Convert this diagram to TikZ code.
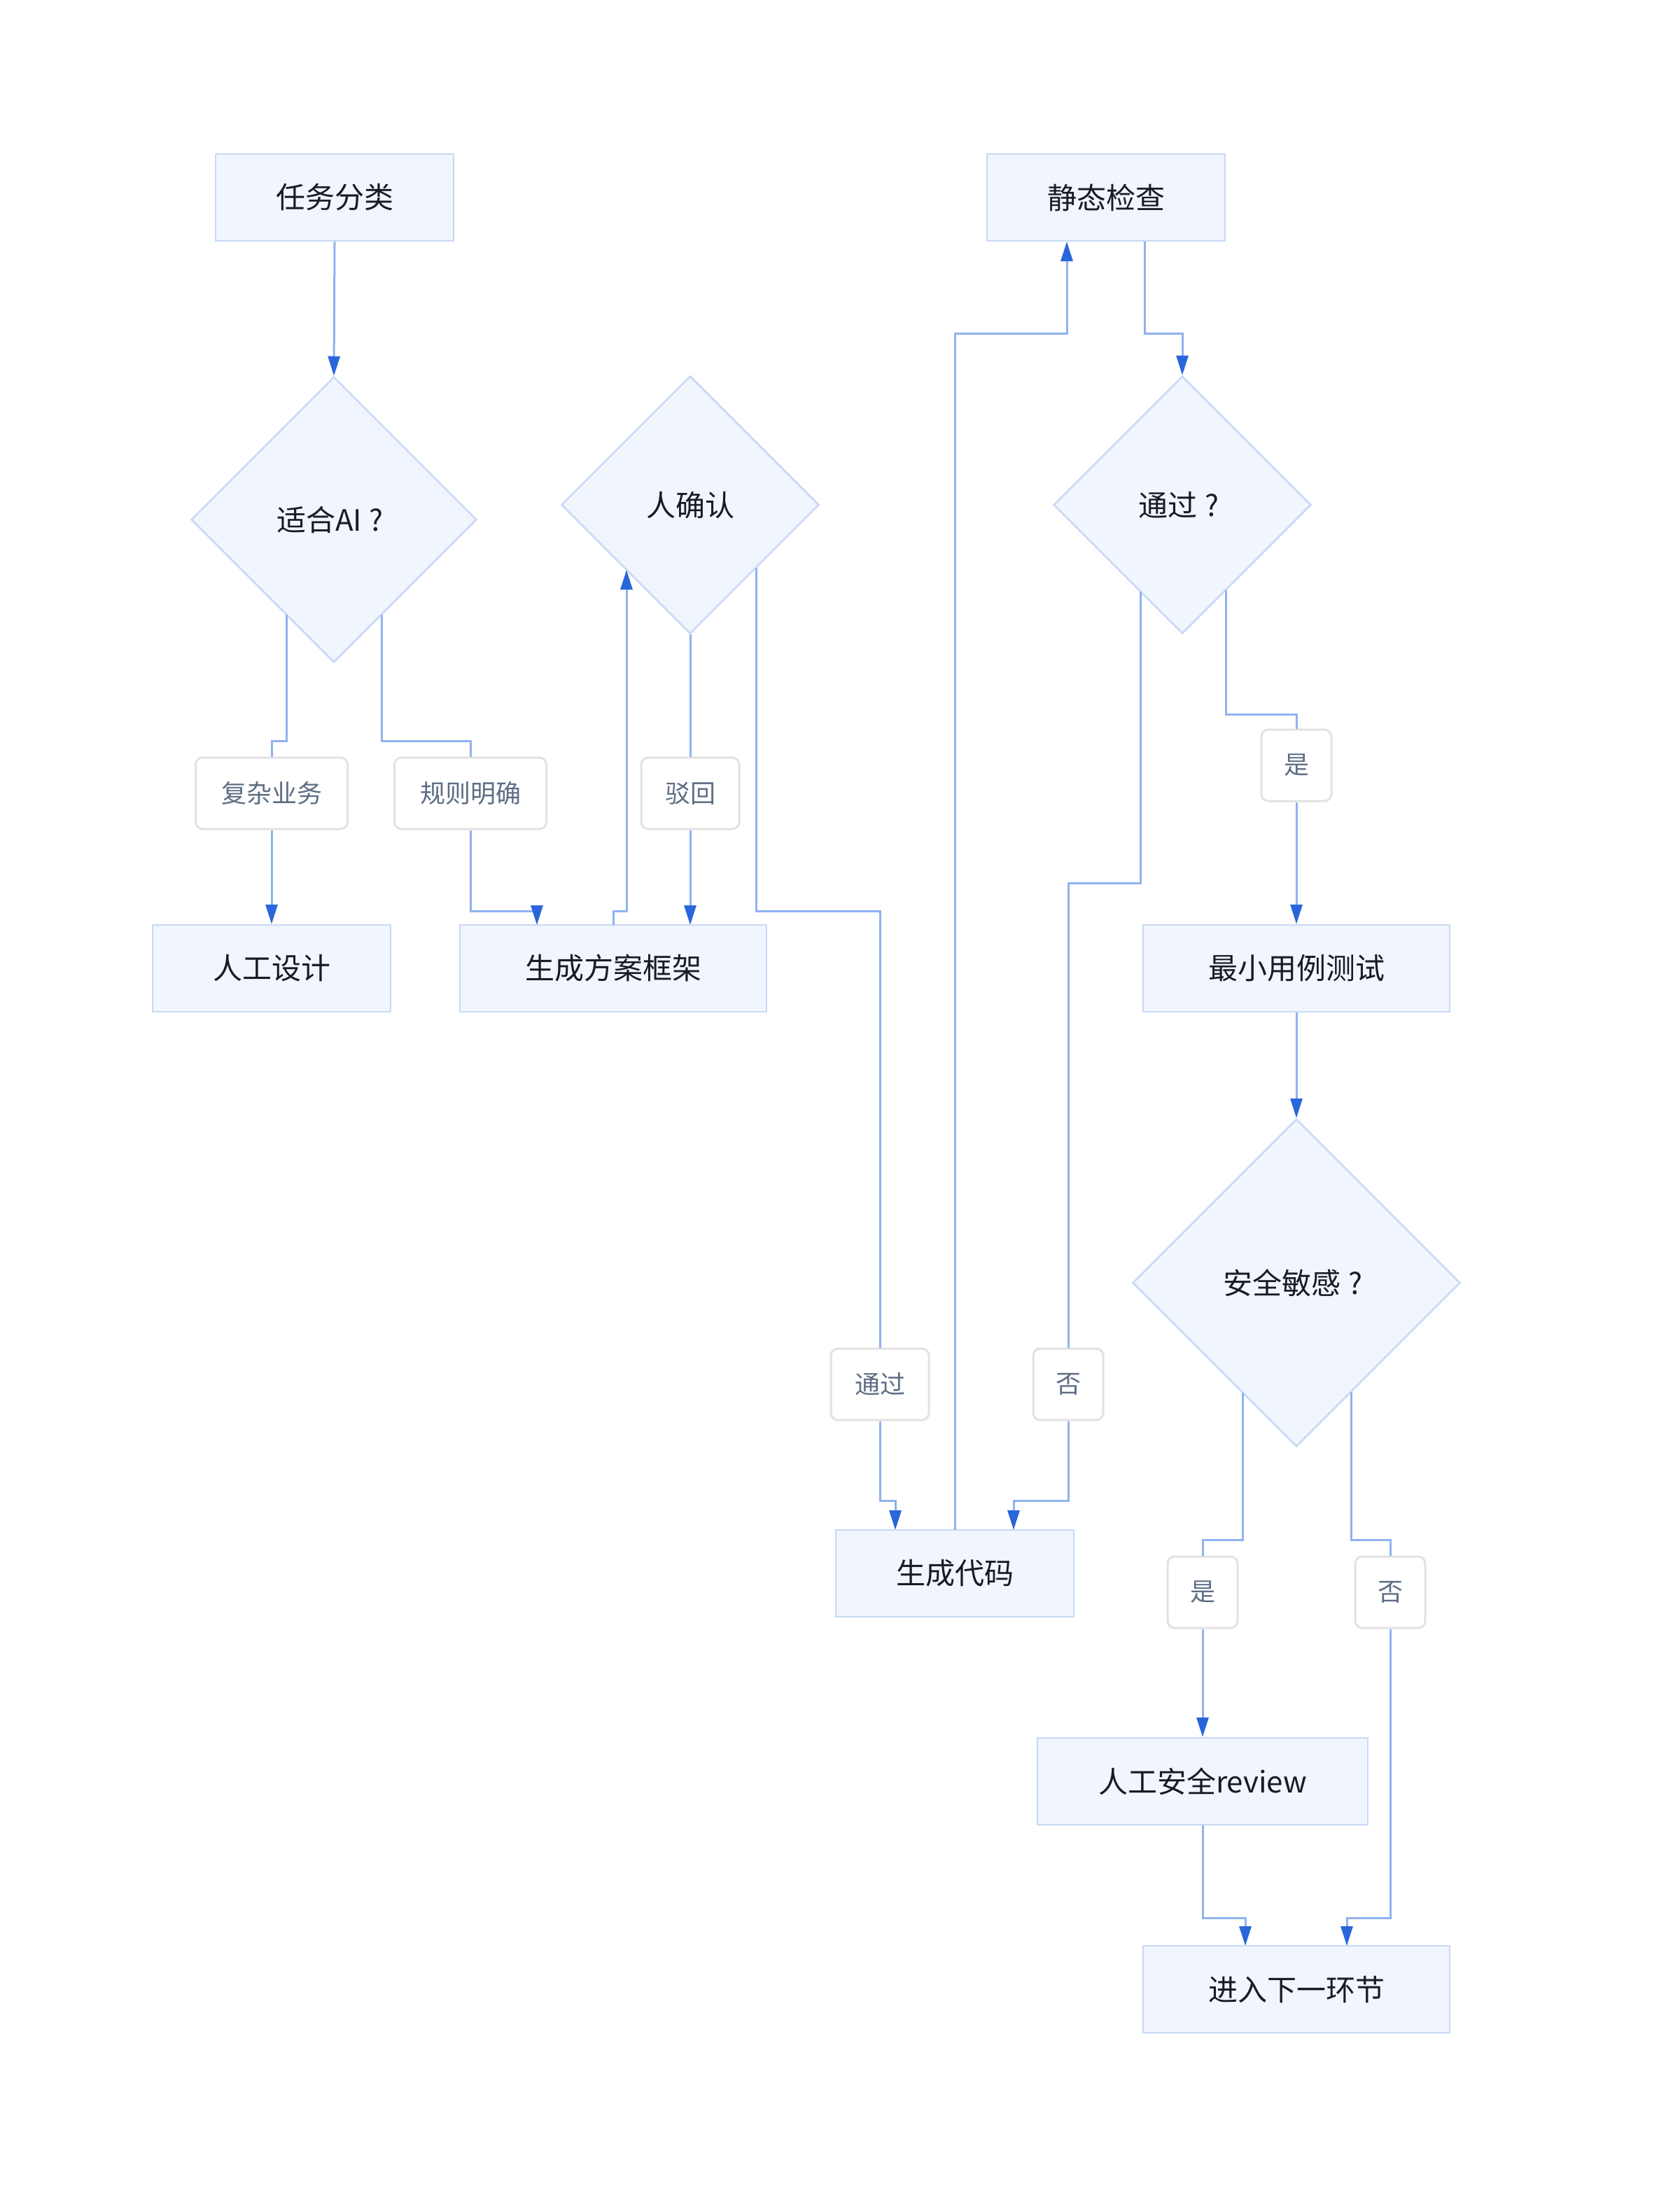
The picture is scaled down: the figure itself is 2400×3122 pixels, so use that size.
\documentclass[tikz,border=0pt]{standalone}
\usepackage{fontspec}
\setmainfont{Noto Sans CJK SC}
\usetikzlibrary{shapes.geometric,arrows.meta}
\definecolor{boxfill}{HTML}{F0F5FE}
\definecolor{boxdraw}{HTML}{C8D9F5}
\definecolor{linec}{HTML}{8FB2F0}
\definecolor{arrowc}{HTML}{2A66DB}
\definecolor{lbltext}{HTML}{5E6E85}
\definecolor{lbldraw}{HTML}{E2E2E2}
\definecolor{txt}{HTML}{161B26}
\newcommand\fwq{\makebox[1em][c]{?}}
\begin{document}
\begin{tikzpicture}[x=1pt,y=-1pt,
  box/.style={draw=boxdraw, fill=boxfill, line width=2.5pt, minimum width=#1, minimum height=124pt, inner sep=0pt, font=\fontsize{42}{50}\selectfont, text=txt},
  dia/.style={diamond, aspect=1, draw=boxdraw, fill=boxfill, line width=2.5pt, minimum width=#1, minimum height=#1, inner sep=0pt, font=\fontsize{42}{50}\selectfont, text=txt},
  lbl/.style={draw=lbldraw, fill=white, line width=3pt, rounded corners=10pt, minimum width=#1, minimum height=102pt, inner sep=0pt, font=\fontsize{36}{44}\selectfont, text=lbltext},
  conn/.style={draw=linec, line width=3pt},
  arr/.style={conn, -{Triangle[length=28pt,width=17pt,color=arrowc]}}
]
\fill[white] (0,0) rectangle (2400,3122);
\useasboundingbox (0,0) rectangle (2400,3122);

% nodes
\node[box=340pt] (t1) at (478,282) {任务分类};
\node[dia=408pt] (d1) at (477,742) {适合AI\fwq};
\node[dia=368pt] (d2) at (986,721) {人确认};
\node[box=340pt] (s1) at (1580,282) {静态检查};
\node[dia=368pt] (d3) at (1689,721) {通过\fwq};
\node[box=340pt] (m1) at (388,1383) {人工设计};
\node[box=438pt] (m2) at (876,1383) {生成方案框架};
\node[box=438pt] (m3) at (1852,1383) {最小用例测试};
\node[dia=468pt] (d4) at (1852,1832) {安全敏感\fwq};
\node[box=340pt] (c1) at (1364,2247) {生成代码};
\node[box=472pt] (r1) at (1718,2544) {人工安全review};
\node[box=438pt] (n1) at (1852,2841) {进入下一环节};

% labels
\node[lbl=217pt] (l1) at (388,1133) {复杂业务};
\node[lbl=217pt] (l2) at (672,1133) {规则明确};
\node[lbl=140pt] (l3) at (986,1133) {驳回};
\node[lbl=140pt] (l4) at (1257,1977) {通过};
\node[lbl=100pt] (l5) at (1526,1977) {否};
\node[lbl=100pt] (l6) at (1852,1093) {是};
\node[lbl=100pt] (l7) at (1718,2274) {是};
\node[lbl=100pt] (l8) at (1986,2274) {否};

% connector end points
\coordinate (d1a) at (409,878);
\coordinate (d1b) at (545,878);
\coordinate (m2a) at (767,1321);
\coordinate (m2b) at (876,1321);
\coordinate (d2a) at (895,814);
\coordinate (d2b) at (1080,811);
\coordinate (c1a) at (1279,2185);
\coordinate (c1b) at (1448,2185);
\coordinate (c1c) at (1364,2185);
\coordinate (s1a) at (1524,345);
\coordinate (s1b) at (1635,345);
\coordinate (d3a) at (1629,845);
\coordinate (d3b) at (1751,843);
\coordinate (d4a) at (1775,1989);
\coordinate (d4b) at (1930,1988);
\coordinate (n1a) at (1779,2779);
\coordinate (n1b) at (1924,2779);

% connectors
\draw[arr] (t1.south) -- (d1.north);
\draw[conn] (d1a) -- (409,1058) -- (388,1058) -- (l1.north);
\draw[arr] (l1.south) -- (m1.north);
\draw[conn] (d1b) -- (545,1058) -- (672,1058) -- (l2.north);
\draw[arr] (l2.south) -- (672,1301) -- (767,1301) -- (m2a);
\draw[arr] (m2b) -- (876,1301) -- (895,1301) -- (d2a);
\draw[conn] (d2.south) -- (l3.north);
\draw[arr] (l3.south) -- (986,1321);
\draw[conn] (d2b) -- (1080,1301) -- (1257,1301) -- (l4.north);
\draw[arr] (l4.south) -- (1257,2143) -- (1279,2143) -- (c1a);
\draw[arr] (c1c) -- (1364,476) -- (1524,476) -- (s1a);
\draw[arr] (s1b) -- (1635,476) -- (1689,476) -- (d3.north);
\draw[conn] (d3a) -- (1629,1261) -- (1526,1261) -- (l5.north);
\draw[arr] (l5.south) -- (1526,2143) -- (1448,2143) -- (c1b);
\draw[conn] (d3b) -- (1751,1020) -- (1852,1020) -- (l6.north);
\draw[arr] (l6.south) -- (m3.north);
\draw[arr] (m3.south) -- (d4.north);
\draw[conn] (d4a) -- (1775,2199) -- (1718,2199) -- (l7.north);
\draw[arr] (l7.south) -- (r1.north);
\draw[conn] (d4b) -- (1930,2199) -- (1986,2199) -- (l8.north);
\draw[arr] (l8.south) -- (1986,2739) -- (1924,2739) -- (n1b);
\draw[arr] (r1.south) -- (1718,2739) -- (1779,2739) -- (n1a);
\end{tikzpicture}
\end{document}
